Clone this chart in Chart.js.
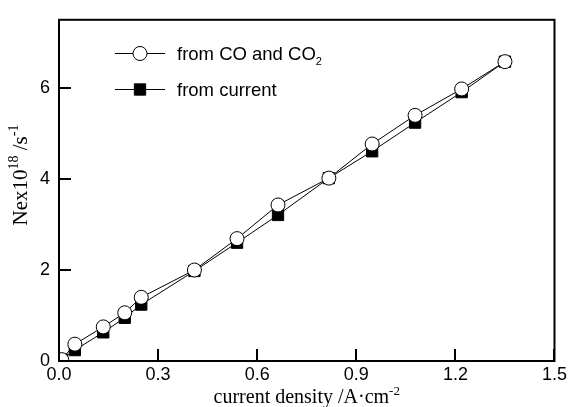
<!DOCTYPE html>
<html>
<head>
<meta charset="utf-8">
<script src="https://cdn.jsdelivr.net/npm/chart.js@4/dist/chart.umd.min.js"></script>
<style>
  html, body { margin: 0; padding: 0; background: #fff; }
  #wrap { width: 570px; height: 407px; }
</style>
</head>
<body>
<div id="wrap"><canvas id="c" width="570" height="407"></canvas></div>
<script>
// ---- data ----
const currentDensity = [0.008, 0.048, 0.134, 0.199, 0.249, 0.41, 0.539, 0.663, 0.817, 0.948, 1.078, 1.219, 1.35];
const fromCOandCO2   = [0.03, 0.37, 0.75, 1.06, 1.40, 2.00, 2.69, 3.43, 4.02, 4.77, 5.40, 5.98, 6.58];
const fromCurrent    = [0.03, 0.24, 0.63, 0.95, 1.24, 1.98, 2.60, 3.21, 4.02, 4.61, 5.24, 5.91, 6.58];
const xTicks = [0.0, 0.3, 0.6, 0.9, 1.2, 1.5];
const yTicks = [0, 2, 4, 6];
const seriesLabels = ['from CO and CO', 'from current'];

const toPoints = (xs, ys) => xs.map((x, i) => ({x: x, y: ys[i]}));

const sans = 'Arial, "Liberation Sans", sans-serif';
const serif = '"Times New Roman", "Liberation Serif", serif';

function drawRich(ctx, segs, align) {
  // segs: [text, size, dy, family]
  let total = 0;
  segs.forEach(s => { ctx.font = s[1] + 'px ' + s[3]; total += ctx.measureText(s[0]).width; });
  let x = align === 'center' ? -total / 2 : 0;
  segs.forEach(s => {
    ctx.font = s[1] + 'px ' + s[3];
    ctx.fillText(s[0], x, s[2]);
    x += ctx.measureText(s[0]).width;
  });
}

const decor = {
  id: 'decor',
  afterDraw(chart) {
    const ctx = chart.ctx;
    const a = chart.chartArea;
    const xs = chart.scales.x, ys = chart.scales.y;
    ctx.save();
    ctx.strokeStyle = '#000';
    ctx.fillStyle = '#000';
    // frame
    ctx.lineWidth = 2;
    ctx.strokeRect(a.left, a.top, a.right - a.left, a.bottom - a.top);
    // inner ticks
    ctx.beginPath();
    xTicks.forEach(v => {
      const px = Math.round(xs.getPixelForValue(v));
      ctx.moveTo(px, a.bottom); ctx.lineTo(px, a.bottom - 12);
    });
    yTicks.forEach(v => {
      const py = Math.round(ys.getPixelForValue(v));
      ctx.moveTo(a.left, py); ctx.lineTo(a.left + 12, py);
    });
    ctx.stroke();

    // axis titles
    ctx.textAlign = 'left';
    ctx.textBaseline = 'alphabetic';
    ctx.save();
    ctx.translate((a.left + a.right) / 2, 403);
    drawRich(ctx, [['current density /A\u00b7cm', 20, 0, serif], ['-2', 13, -8, serif]], 'center');
    ctx.restore();

    ctx.save();
    ctx.translate(27, 175);
    ctx.rotate(-Math.PI / 2);
    drawRich(ctx, [['Nex10', 21, 0, serif], ['18', 14, -9, serif], [' /s', 21, 0, serif], ['-1', 14, -9, serif]], 'center');
    ctx.restore();

    // legend
    const rows = [53, 89];
    chart.data.datasets.forEach((ds, i) => {
      const y = rows[i];
      ctx.lineWidth = 1;
      ctx.strokeStyle = ds.borderColor;
      ctx.beginPath();
      ctx.moveTo(115, y + 0.5); ctx.lineTo(165, y + 0.5);
      ctx.stroke();
      ctx.fillStyle = ds.pointBackgroundColor;
      ctx.strokeStyle = ds.pointBorderColor;
      ctx.beginPath();
      if (ds.pointStyle === 'circle') {
        ctx.arc(140, y + 0.5, ds.pointRadius, 0, Math.PI * 2);
      } else {
        const s = Math.SQRT1_2 * ds.pointRadius;
        ctx.rect(140 - s, y + 0.5 - s, 2 * s, 2 * s);
      }
      ctx.fill();
      ctx.stroke();
      ctx.fillStyle = '#000';
      ctx.save();
      ctx.translate(177, y + 6.5);
      const segs = [[ds.label, 18.5, 0, sans]];
      if (i === 0) segs.push(['2', 11, 5, sans]);
      drawRich(ctx, segs, 'left');
      ctx.restore();
    });
    ctx.restore();
  }
};

new Chart(document.getElementById('c'), {
  type: 'line',
  data: {
    datasets: [
      {
        label: seriesLabels[0],
        data: toPoints(currentDensity, fromCOandCO2),
        borderColor: '#000',
        borderWidth: 1,
        pointStyle: 'circle',
        pointRadius: 7,
        pointBorderWidth: 1,
        pointBackgroundColor: '#fff',
        pointBorderColor: '#000',
        tension: 0
      },
      {
        label: seriesLabels[1],
        data: toPoints(currentDensity, fromCurrent),
        borderColor: '#000',
        borderWidth: 1,
        pointStyle: 'rect',
        pointRadius: 8,
        pointBorderWidth: 1,
        pointBackgroundColor: '#000',
        pointBorderColor: '#000',
        tension: 0
      }
    ]
  },
  options: {
    responsive: false,
    animation: false,
    devicePixelRatio: 1,
    layout: { padding: { top: 13, right: 13.5, left: 0, bottom: 0 } },
    plugins: { legend: { display: false }, tooltip: { enabled: false } },
    scales: {
      x: {
        type: 'linear',
        min: 0, max: 1.5,
        afterFit: s => { s.height = 46; },
        afterBuildTicks: s => { s.ticks = xTicks.map(v => ({value: v})); },
        grid: { display: false, drawTicks: false },
        border: { display: false },
        ticks: {
          color: '#000', padding: 3,
          font: { family: sans, size: 18 },
          maxRotation: 0, autoSkip: false,
          callback: v => Number(v).toFixed(1)
        }
      },
      y: {
        type: 'linear',
        min: 0, max: 7.5,
        afterFit: s => { s.width = 59; },
        afterBuildTicks: s => { s.ticks = yTicks.map(v => ({value: v})); },
        grid: { display: false, drawTicks: false },
        border: { display: false },
        ticks: {
          color: '#000', padding: 9,
          font: { family: sans, size: 18 },
          callback: v => String(v)
        }
      }
    }
  },
  plugins: [decor]
});
</script>
</body>
</html>
